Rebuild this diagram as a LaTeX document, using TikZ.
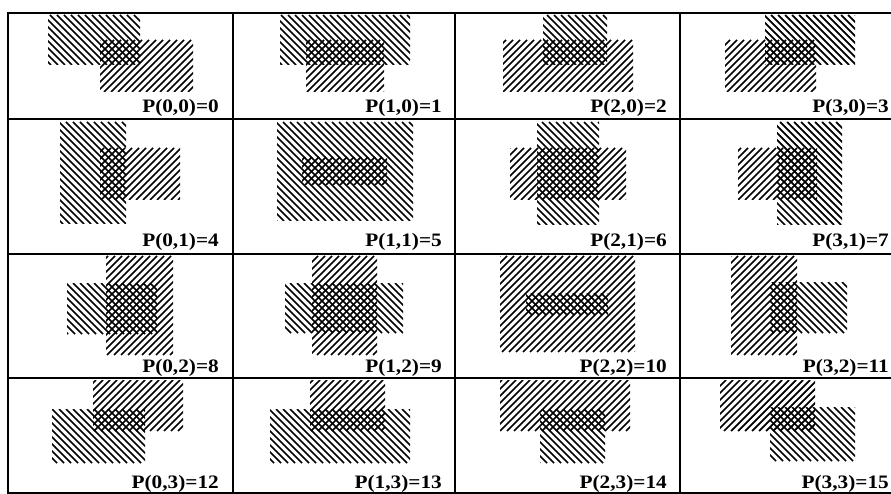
\documentclass[tikz,border=0pt]{standalone}
\usepackage{fontspec}
\setmainfont{Liberation Serif}
\tikzset{
  hatchline/.style={line width=1.75pt},
  gridline/.style={line width=1.8pt},
  lbl/.style={anchor=base east, inner sep=0pt, font=\bfseries\fontsize{19}{19}\selectfont}
}
% "\" hatching: lines x - y = c
\newcommand\hatchBS[4]{%
  \begin{scope}
    \clip (#1,#2) rectangle (#3,#4);
    \pgfmathtruncatemacro\hcs{7*floor((#1-#4)/7)-7}
    \pgfmathtruncatemacro\hcn{\hcs+7}
    \pgfmathtruncatemacro\hce{#3-#2+7}
    \foreach \c in {\hcs,\hcn,...,\hce}
      \draw[hatchline] (\c+#2,#2) -- (\c+#4,#4);
  \end{scope}}
% "/" hatching: lines x + y = c
\newcommand\hatchFS[4]{%
  \begin{scope}
    \clip (#1,#2) rectangle (#3,#4);
    \pgfmathtruncatemacro\hcs{7*floor((#1+#2)/7)-7}
    \pgfmathtruncatemacro\hcn{\hcs+7}
    \pgfmathtruncatemacro\hce{#3+#4+7}
    \foreach \c in {\hcs,\hcn,...,\hce}
      \draw[hatchline] (\c-#2,#2) -- (\c-#4,#4);
  \end{scope}}
\newcommand\lab[1]{\scalebox{1.12}[1]{#1}}
\begin{document}
\begin{tikzpicture}[x=1pt,y=-1pt]
\useasboundingbox (0,0) rectangle (891,494);
\fill[white] (0,0) rectangle (891,494);
% ---- row 1 (A above B)
\hatchBS{48}{15}{140}{65}   \hatchFS{100}{40}{193}{92}
\hatchBS{280}{15}{410}{65}  \hatchFS{306}{40}{384}{92}
\hatchBS{543}{15}{607}{65}  \hatchFS{503}{40}{633}{92}
\hatchBS{765}{15}{855}{65}  \hatchFS{725}{40}{816}{92}
% ---- row 2 (A contains B vertically)
\hatchBS{60}{122}{126}{224}  \hatchFS{100}{148}{180}{200}
\hatchBS{277}{122}{413}{221} \hatchFS{302}{157}{387}{185}
\hatchBS{537}{122}{599}{225} \hatchFS{510}{148}{626}{200}
\hatchBS{777}{122}{842}{225} \hatchFS{738}{148}{817}{200}
% ---- row 3 (B contains A vertically)
\hatchFS{106}{256}{173}{355} \hatchBS{67}{283}{157}{334}
\hatchFS{312}{256}{377}{355} \hatchBS{285}{283}{403}{333}
\hatchFS{500}{256}{635}{352} \hatchBS{526}{293}{608}{315}
\hatchFS{731}{256}{797}{355} \hatchBS{770}{282}{847}{333}
% ---- row 4 (A below B)
\hatchFS{93}{380}{183}{431}  \hatchBS{52}{409}{145}{463}
\hatchFS{310}{380}{385}{431} \hatchBS{270}{409}{410}{463}
\hatchFS{500}{380}{630}{431} \hatchBS{540}{409}{605}{463}
\hatchFS{720}{380}{815}{431} \hatchBS{770}{407}{855}{461}
% ---- grid
\foreach \yy in {13,119,254,378,493}
  \draw[gridline] (7,\yy) -- (891,\yy);
\foreach \xx in {8,233,455,680}
  \draw[gridline] (\xx,13) -- (\xx,493);
% ---- labels
\node[lbl] (p00) at (219,113) {\lab{P(0,0)=0}};
\node[lbl] (p10) at (442,113) {\lab{P(1,0)=1}};
\node[lbl] (p20) at (667,113) {\lab{P(2,0)=2}};
\node[lbl] (p30) at (889,113) {\lab{P(3,0)=3}};
\node[lbl] (p01) at (219,247) {\lab{P(0,1)=4}};
\node[lbl] (p11) at (442,247) {\lab{P(1,1)=5}};
\node[lbl] (p21) at (667,247) {\lab{P(2,1)=6}};
\node[lbl] (p31) at (889,247) {\lab{P(3,1)=7}};
\node[lbl] (p02) at (219,372) {\lab{P(0,2)=8}};
\node[lbl] (p12) at (442,372) {\lab{P(1,2)=9}};
\node[lbl] (p22) at (667,372) {\lab{P(2,2)=10}};
\node[lbl] (p32) at (889,372) {\lab{P(3,2)=11}};
\node[lbl] (p03) at (219,488) {\lab{P(0,3)=12}};
\node[lbl] (p13) at (442,488) {\lab{P(1,3)=13}};
\node[lbl] (p23) at (667,488) {\lab{P(2,3)=14}};
\node[lbl] (p33) at (889,488) {\lab{P(3,3)=15}};
\end{tikzpicture}
\end{document}
